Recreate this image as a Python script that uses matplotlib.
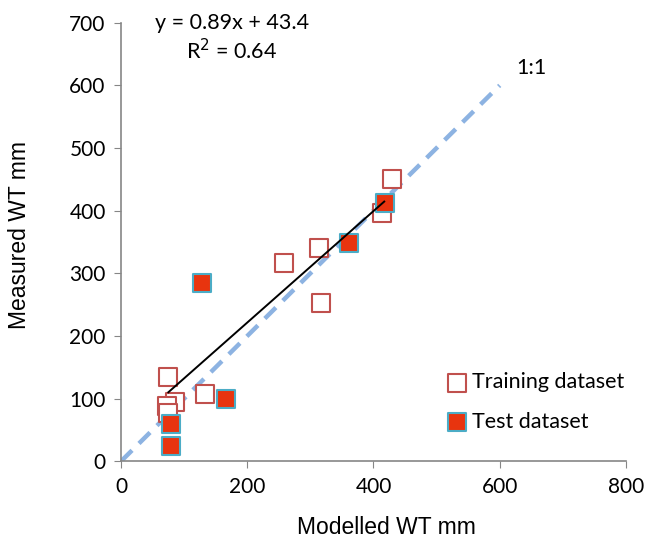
import matplotlib
matplotlib.use("Agg")
import matplotlib.pyplot as plt
import numpy as np

plt.rcParams['font.family'] = ['Lato', 'DejaVu Sans']

train_x = [75, 86, 73, 75, 133, 429, 413, 314, 259, 317]
train_y = [134, 94, 88, 77, 108, 451, 396, 340, 316, 252]
test_x = [79, 79, 167, 419, 362, 129]
test_y = [59, 24, 100, 413, 349, 284]

slope, intercept = 0.89, 43.4
fit_x = [75, 417]
one_x = [0, 600]

fig = plt.figure(figsize=(6.46, 5.42), dpi=100)
ax = fig.add_axes([0.1873, 0.1489, 0.7817, 0.8092])

ax.plot(one_x, one_x, color='#8db3e2', lw=3.2, dashes=(3.5, 2.2), zorder=1)
ax.scatter(train_x, train_y, marker='s', s=150, facecolors='white', edgecolors='#c0504d', linewidths=1.5, zorder=2, label='Training dataset')
ax.scatter(test_x, test_y, marker='s', s=150, facecolors='#e8340f', edgecolors='#4bacc6', linewidths=1.5, zorder=3, label='Test dataset')
fx = np.array(fit_x)
ax.plot(fx, slope * fx + intercept, color='black', lw=1.4, zorder=4)

ax.set_xlim(0, 800)
ax.set_ylim(0, 700)
ax.set_xticks(range(0, 801, 200))
ax.set_yticks(range(0, 701, 100))
for s in ['top', 'right']:
    ax.spines[s].set_visible(False)
for s in ['left', 'bottom']:
    ax.spines[s].set_color('#868686')
    ax.spines[s].set_linewidth(1.2)
ax.tick_params(axis='both', direction='out', length=5, color='#868686', labelsize=15, pad=6)
ax.set_xlabel('Modelled WT mm', fontsize=16.5, family=['Liberation Sans', 'DejaVu Sans'])
ax.set_ylabel('Measured WT mm', fontsize=16.5, family=['Liberation Sans', 'DejaVu Sans'])
ax.xaxis.set_label_coords(0.525, -0.125)
ax.yaxis.set_label_coords(-0.178, 0.516)

ax.text(176, 700, 'y = 0.89x + 43.4', fontsize=15.5, ha='center', va='center')
ax.text(175, 656, 'R$^2$ = 0.64', fontsize=15.5, ha='center', va='center')
ax.text(651, 628, '1:1', fontsize=15.5, ha='center', va='center')

ax.legend(loc='center left', bbox_to_anchor=(0.644, 0.135), frameon=False, fontsize=15.5,
          handlelength=1.0, handletextpad=0.2, labelspacing=0.9, borderaxespad=0, borderpad=0)

fig.savefig('out.png', dpi=100)
